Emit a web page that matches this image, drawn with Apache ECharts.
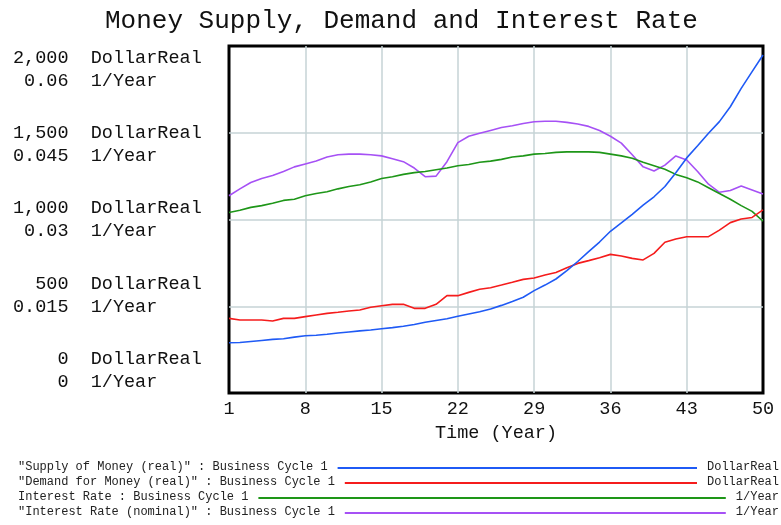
<!DOCTYPE html>
<html>
<head>
<meta charset="utf-8">
<title>Money Supply, Demand and Interest Rate</title>
<script src="https://cdn.jsdelivr.net/npm/echarts@6/dist/echarts.min.js"></script>
<style>
html, body { margin: 0; padding: 0; background: #fff; }
#chart { width: 781px; height: 525px; }
</style>
</head>
<body>
<div id="chart"></div>
<script>
// time axis (Year)
var years = [];
for (var y = 1; y <= 50; y++) years.push(String(y));

// DollarReal
var supplyReal = [290, 291, 297, 303, 309, 313, 322, 330, 333, 339,
  346, 352, 358, 363, 370, 377, 385, 395, 408, 418,
  428, 442, 455, 468, 484, 505, 528, 552, 590, 622,
  657, 705, 758, 815, 870, 932, 980, 1030, 1083, 1131,
  1190, 1270, 1355, 1425, 1497, 1564, 1650, 1756, 1852, 1948];
var demandReal = [430, 421, 421, 421, 415, 430, 430, 440, 450, 459,
  465, 473, 478, 494, 503, 511, 511, 488, 488, 511,
  561, 561, 580, 598, 607, 622, 638, 655, 663, 680,
  695, 722, 747, 763, 780, 799, 790, 776, 767, 805,
  869, 888, 901, 901, 901, 939, 982, 1003, 1012, 1055];

// 1/Year
var interestRate = [0.0312, 0.0316, 0.0321, 0.0324, 0.0328, 0.0333, 0.0335, 0.0341, 0.0345, 0.0348,
  0.0353, 0.0357, 0.0360, 0.0365, 0.0371, 0.0374, 0.0378, 0.0381, 0.0383, 0.0386,
  0.0389, 0.0393, 0.0395, 0.0399, 0.0401, 0.0404, 0.0408, 0.0410, 0.0413, 0.0414,
  0.0416, 0.0417, 0.0417, 0.0417, 0.0416, 0.0413, 0.0410, 0.0406, 0.0399, 0.0393,
  0.0387, 0.0378, 0.0372, 0.0365, 0.0355, 0.0345, 0.0335, 0.0324, 0.0314, 0.0297];
var interestNominal = [0.0341, 0.0353, 0.0364, 0.0371, 0.0376, 0.0383, 0.0391, 0.0396, 0.0401, 0.0408,
  0.0412, 0.0413, 0.0413, 0.0412, 0.0410, 0.0405, 0.0400, 0.0389, 0.0374, 0.0375,
  0.0400, 0.0433, 0.0444, 0.0449, 0.0454, 0.0459, 0.0462, 0.0466, 0.0469, 0.0470,
  0.0470, 0.0468, 0.0465, 0.0461, 0.0454, 0.0444, 0.0432, 0.0412, 0.0391, 0.0384,
  0.0394, 0.0410, 0.0403, 0.0383, 0.0361, 0.0347, 0.0350, 0.0358, 0.0351, 0.0344];

// tick labels of the left scale
var dollarTicks = ['0', '500', '1,000', '1,500', '2,000'];
var rateTicks = ['0', '0.015', '0.03', '0.045', '0.06'];

var legendRows = [
  { name: '"Supply of Money (real)" : Business Cycle 1', unit: 'DollarReal', color: '#1f5af5' },
  { name: '"Demand for Money (real)" : Business Cycle 1', unit: 'DollarReal', color: '#f51c1c' },
  { name: 'Interest Rate : Business Cycle 1', unit: '1/Year', color: '#1e9618' },
  { name: '"Interest Rate (nominal)" : Business Cycle 1', unit: '1/Year', color: '#a651f5' }
];

var FONT = '"Liberation Mono", "DejaVu Sans Mono", monospace';
var NB = '\u00a0';

// right-align a tick number in a fixed monospace field
function pad(s, n) {
  while (s.length < n) s = NB + s;
  return s;
}

// legend below the plot, vensim style: name ---- unit
var graphic = [];
var charW = 7.2, rowTop = 461, rowGap = 15;
legendRows.forEach(function (r, i) {
  var yy = rowTop + i * rowGap;
  var textEnd = 18 + r.name.length * charW;
  var unitStart = 779 - r.unit.length * charW;
  graphic.push({
    type: 'text', left: 18, top: yy,
    style: { text: r.name, font: '12px ' + FONT, fill: '#222' }
  });
  graphic.push({
    type: 'text', right: 2, top: yy,
    style: { text: r.unit, font: '12px ' + FONT, fill: '#222' }
  });
  graphic.push({
    type: 'line',
    shape: { x1: textEnd + 10, y1: yy + 7, x2: unitStart - 10, y2: yy + 7 },
    style: { stroke: r.color, lineWidth: 2 }
  });
});

var gridLine = { color: '#c6d3d6', width: 1.5 };

var chart = echarts.init(document.getElementById('chart'));
var option = {
  animation: false,
  backgroundColor: '#fff',
  title: {
    text: 'Money Supply, Demand and Interest Rate',
    left: 100, top: 3,
    textStyle: { fontFamily: FONT, fontSize: 26, fontWeight: 'normal', color: '#111' }
  },
  grid: [
    { left: 229, right: 18, top: 46, bottom: 132, show: true, borderColor: '#000', borderWidth: 3, backgroundColor: '#fff' },
    // only used to place the two-line left labels
    { left: 229, right: 18, top: 69.5, bottom: 154.5, show: false }
  ],
  xAxis: [
    {
      type: 'category', gridIndex: 0, data: years, boundaryGap: false,
      axisLine: { show: false }, axisTick: { show: false },
      axisLabel: { interval: 6, color: '#111', fontFamily: FONT, fontSize: 18.5, margin: 7 },
      splitLine: { show: true, interval: 6, showMinLine: false, showMaxLine: false, lineStyle: gridLine },
      name: 'Time (Year)', nameLocation: 'middle', nameGap: 31,
      nameTextStyle: { color: '#111', fontFamily: FONT, fontSize: 18.5 }
    },
    { type: 'value', gridIndex: 1, show: false }
  ],
  yAxis: [
    {
      type: 'value', gridIndex: 0, min: 0, max: 2000, interval: 500,
      axisLine: { show: false }, axisTick: { show: false }, axisLabel: { show: false },
      splitLine: { show: true, showMinLine: false, showMaxLine: false, lineStyle: gridLine }
    },
    {
      type: 'value', gridIndex: 0, min: 0, max: 0.06, interval: 0.015,
      show: false, splitLine: { show: false }
    },
    {
      type: 'value', gridIndex: 1, min: 0, max: 2000, interval: 500,
      axisLine: { show: false }, axisTick: { show: false }, splitLine: { show: false },
      axisLabel: {
        margin: 216, align: 'left', lineHeight: 23,
        fontFamily: FONT, fontSize: 18.5, color: '#111',
        formatter: function (v) {
          var k = Math.round(v / 500);
          return pad(dollarTicks[k], 5) + NB + NB + 'DollarReal\n' +
            pad(rateTicks[k], 5) + NB + NB + '1/Year';
        }
      }
    }
  ],
  series: [
    { name: 'Supply of Money (real)', type: 'line', xAxisIndex: 0, yAxisIndex: 0, data: supplyReal,
      showSymbol: false, lineStyle: { color: legendRows[0].color, width: 1.6 }, z: 4 },
    { name: 'Demand for Money (real)', type: 'line', xAxisIndex: 0, yAxisIndex: 0, data: demandReal,
      showSymbol: false, lineStyle: { color: legendRows[1].color, width: 1.6 }, z: 3 },
    { name: 'Interest Rate', type: 'line', xAxisIndex: 0, yAxisIndex: 1, data: interestRate,
      showSymbol: false, lineStyle: { color: legendRows[2].color, width: 1.6 }, z: 2 },
    { name: 'Interest Rate (nominal)', type: 'line', xAxisIndex: 0, yAxisIndex: 1, data: interestNominal,
      showSymbol: false, lineStyle: { color: legendRows[3].color, width: 1.6 }, z: 1 }
  ],
  graphic: graphic
};
chart.setOption(option);
</script>
</body>
</html>
